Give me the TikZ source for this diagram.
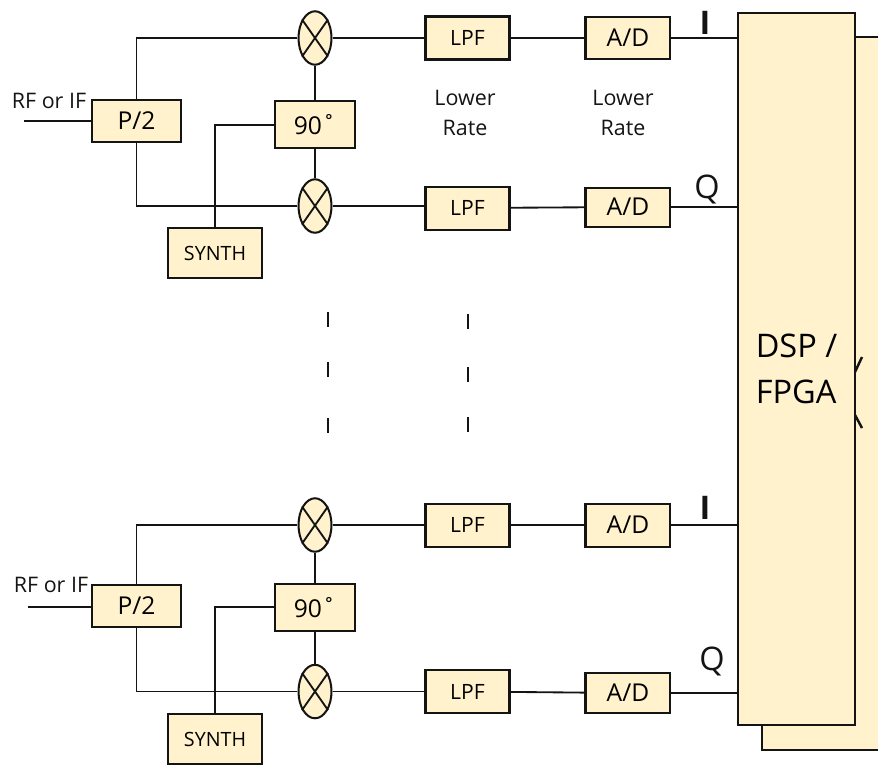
\documentclass[tikz,border=0pt]{standalone}
\usepackage{fontspec}
\usepackage{xcolor}
\usetikzlibrary{positioning,shapes.geometric}
\setmainfont{Open Sans}
\definecolor{RxCream}{HTML}{FFF2CC}
\definecolor{RxLine}{HTML}{141414}

\begin{document}
\begin{tikzpicture}[
  x=0.02cm, y=-0.02cm,
  node distance=1.5cm,
  box/.style={draw=RxLine, line width=1.15pt, fill=RxCream, align=center, inner sep=0pt},
  splitbox/.style={box, minimum width=1.78cm, minimum height=0.84cm, font=\fontsize{14}{16}\selectfont},
  phasebox/.style={box, minimum width=1.6cm, minimum height=0.94cm, font=\fontsize{14}{16}\selectfont},
  synthbox/.style={box, minimum width=1.88cm, minimum height=1cm, font=\fontsize{11.2}{13}\selectfont},
  lpfbox/.style={box, minimum width=1.68cm, minimum height=0.86cm, font=\fontsize{12}{14}\selectfont},
  adbox/.style={box, minimum width=1.7cm, minimum height=0.84cm, font=\fontsize{14}{16}\selectfont},
  mixer/.style={draw=RxLine, line width=1.15pt, fill=RxCream, ellipse, inner sep=0pt, minimum width=0.66cm, minimum height=1.07cm},
  wire/.style={draw=RxLine, line width=1.05pt},
  tick/.style={draw=RxLine, line width=1.4pt},
  txt/.style={align=center, inner sep=0pt, text=RxLine, font=\fontsize{12.2}{17}\selectfont},
  iqtxt/.style={inner sep=0pt, text=RxLine, font=\fontsize{18.5}{20}\selectfont}
]
\useasboundingbox (0,0) rectangle (878,765);

% DSP stack
\node[box, minimum width=2.72cm, minimum height=14.26cm] (fpgaback) at (830,393.5) {};
\draw[tick] (855,372) -- (862,357);
\draw[tick] (855,415) -- (862,428);
\node[box, minimum width=2.34cm, minimum height=14.24cm, font=\fontsize{18.5}{26}\selectfont, align=left] (fpga) at (796.5,369) {DSP /\\FPGA};

% upper channel pair
\node[mixer] (mixA) at (315,38) {};
\node[phasebox, below=0.69cm of mixA] (phaseA) {90˚};
\node[mixer, below=0.58cm of phaseA] (mixB) {};
\node[splitbox] (splitA) at (136.5,121) {P/2};
\node[synthbox] (synthA) at (215,253) {SYNTH};
\coordinate (rfA) at (24,121);
\node[lpfbox, right=1.84cm of mixA] (lpfA) {LPF};
\node[adbox, right=1.48cm of lpfA] (adA) {A/D};
\node[lpfbox, right=1.84cm of mixB, yshift=-0.04cm] (lpfB) {LPF};
\node[adbox, right=1.48cm of lpfB, yshift=0.02cm, minimum height=0.78cm] (adB) {A/D};
\node[txt, text width=2cm] (rateA) at (465,113) {Lower\\Rate};
\node[txt, text width=2cm] (rateB) at (623,113) {Lower\\Rate};

% lower channel pair
\node[mixer] (mixC) at (315,525) {};
\node[phasebox, below=0.6cm of mixC] (phaseB) {90˚};
\node[mixer, below=0.64cm of phaseB] (mixD) {};
\node[splitbox] (splitB) at (136.5,606) {P/2};
\node[synthbox] (synthB) at (215,739) {SYNTH};
\coordinate (rfB) at (28,607);
\node[lpfbox, right=1.84cm of mixC] (lpfC) {LPF};
\node[adbox, right=1.48cm of lpfC, minimum height=0.86cm] (adC) {A/D};
\node[lpfbox, right=1.84cm of mixD] (lpfD) {LPF};
\node[adbox, right=1.48cm of lpfD, yshift=-0.03cm, minimum height=0.8cm] (adD) {A/D};

\node[txt] (rfAtxt) at (49,101) {RF or IF};
\node[txt] (rfBtxt) at (51,585) {RF or IF};
\node[iqtxt, font=\fontsize{18.5}{20}\selectfont\bfseries] (iA) at (705,23) {I};
\node[iqtxt] (qA) at (707,189) {Q};
\node[iqtxt, font=\fontsize{18.5}{20}\selectfont\bfseries] (iB) at (705,508) {I};
\node[iqtxt] (qB) at (712,661) {Q};

% mixer crosses
\foreach \m in {mixA,mixB,mixC,mixD} {
  \draw[wire] (\m.55) -- (\m.235);
  \draw[wire] (\m.125) -- (\m.305);
}

\draw[wire] (rfA) -- (splitA);
\draw[wire] (splitA.north) |- (mixA.west);
\draw[wire] (splitA.south) |- (mixB.west);
\draw[wire] (mixA) -- (phaseA);
\draw[wire] (phaseA) -- (mixB);
\draw[wire] (phaseA.west) -| (synthA.north);
\draw[wire] (mixA) -- (lpfA);
\draw[wire] (lpfA) -- (adA);
\draw[wire] (adA) -- (adA -| fpga.west);
\draw[wire] (mixB) -- (mixB -| lpfB.west);
\draw[wire] (lpfB) -- (adB);
\draw[wire] (adB) -- (adB -| fpga.west);

\draw[wire] (rfB) -- (rfB -| splitB.west);
\draw[wire] (splitB.north) |- (mixC.west);
\draw[wire] (splitB.south) |- (mixD.west);
\draw[wire] (mixC) -- (phaseB);
\draw[wire] (phaseB) -- (mixD);
\draw[wire] (phaseB.west) -| (synthB.north);
\draw[wire] (mixC) -- (lpfC);
\draw[wire] (lpfC) -- (adC);
\draw[wire] (adC) -- (adC -| fpga.west);
\draw[wire] (mixD) -- (lpfD);
\draw[wire] (lpfD) -- (adD);
\draw[wire] (adD) -- (adD -| fpga.west);

% continuation ticks
\draw[tick] (328,312) -- (328,327);
\draw[tick] (328,362) -- (328,377);
\draw[tick] (328,418) -- (328,433);
\draw[tick] (468,314) -- (468,329);
\draw[tick] (468,367) -- (468,382);
\draw[tick] (468,417) -- (468,432);
\end{tikzpicture}
\end{document}
